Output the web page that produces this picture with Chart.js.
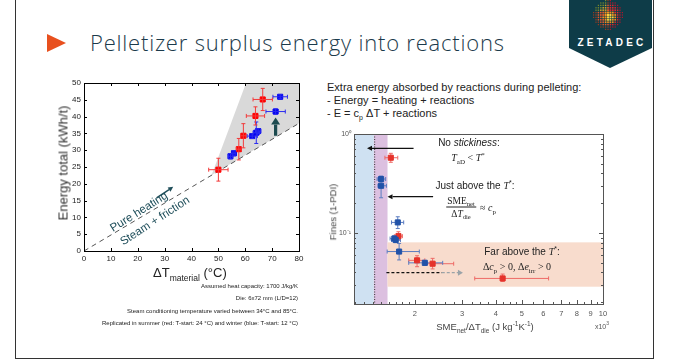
<!DOCTYPE html>
<html><head><meta charset="utf-8">
<script src="https://cdn.jsdelivr.net/npm/chart.js@4.4.0/dist/chart.umd.min.js"></script>
<style>
html,body{margin:0;padding:0;background:#fff;}
#page{position:relative;width:677px;height:362px;overflow:hidden;font-family:"Liberation Sans",Arial,sans-serif;color:#222;}
.abs{position:absolute;white-space:nowrap;line-height:1;}
.c{transform:translate(-50%,-50%);}
canvas{position:absolute;}
sub,sup{line-height:0;}
.math{font-family:"Liberation Serif","DejaVu Serif",serif;}
</style></head>
<body><div id="page">
<div class="abs" style="left:15px;top:-5px;width:639px;height:364px;border:1.5px solid #333;border-top:none;box-sizing:border-box;"></div>
<svg id="logo" class="abs" style="left:0;top:0" width="677" height="80">
  <polygon points="569,0 652,0 652,48 610,68 569,48" fill="#0e3c48"/>
  <g id="sphere"></g>
  <text x="612" y="46" fill="#fff" font-family="Liberation Sans,Arial" font-weight="bold" font-size="10" letter-spacing="3.2" text-anchor="middle">ZETADEC</text>
</svg>
<div class="abs" style="left:47px;top:34px;width:0;height:0;border-left:19px solid #e8501e;border-top:9.5px solid transparent;border-bottom:9.5px solid transparent;"></div>
<div class="abs" style="left:90px;top:31px;font-family:'Open Sans',sans-serif;font-weight:300;font-size:22px;letter-spacing:0.8px;line-height:22px;color:#1b3a4b;">Pelletizer surplus energy into reactions</div>

<canvas id="c1" width="270" height="200" style="left:40px;top:70px;width:270px;height:200px"></canvas>
<canvas id="c2" width="310" height="215" style="left:310px;top:125px;width:310px;height:215px"></canvas>

<!-- chart 1 texts -->
<div class="abs c" style="left:63px;top:163px;font-size:13px;color:#333;transform:translate(-50%,-50%) rotate(-90deg);">Energy total (kWh/t)</div>
<div class="abs" style="left:153px;top:266px;font-size:13px;">ΔT<sub style="font-size:8.5px">material</sub> (°C)</div>
<div class="abs" style="left:139px;top:212px;font-size:11.5px;color:#1f4e5a;transform:translate(-50%,-50%) rotate(-32deg);">Pure heating</div>
<div class="abs" style="left:155px;top:221px;font-size:11.5px;color:#1f4e5a;transform:translate(-50%,-50%) rotate(-33deg);">Steam + friction</div>
<div class="abs" style="left:40px;top:280px;width:258px;text-align:right;font-size:6px;line-height:12.3px;color:#222;">Assumed heat capacity: 1700 J/kg/K<br>Die: 6x72 mm (L/D=12)<br>Steam conditioning temperature varied between 34°C and 85°C.<br>Replicated in summer (red: T-start: 24 °C) and winter (blue: T-start: 12 °C)</div>

<!-- right texts -->
<div class="abs" style="left:327px;top:81px;font-size:11px;line-height:13px;color:#222;">Extra energy absorbed by reactions during pelleting:<br>- Energy = heating + reactions<br>- E = c<sub style="font-size:7px">p</sub> ΔT + reactions</div>

<!-- chart 2 texts -->
<div class="abs c" style="left:333px;top:212px;font-size:9.5px;color:#444;transform:translate(-50%,-50%) rotate(-90deg);">Fines (1-PDI)</div>
<div class="abs c" style="left:485px;top:327px;font-size:9.5px;color:#444;">SME<sub style="font-size:6.5px">net</sub>/ΔT<sub style="font-size:6.5px">die</sub> (J kg<sup style="font-size:6.5px">-1</sup>K<sup style="font-size:6.5px">-1</sup>)</div>
<div class="abs c" style="left:602px;top:326px;font-size:7px;color:#555;">x10<sup style="font-size:5px">3</sup></div>
<div class="abs c" style="left:469px;top:143px;font-size:10px;">No <i>stickiness</i>:</div>
<div class="abs c math" style="left:468px;top:158px;font-size:10px;"><i>T</i><sub style="font-size:7px">aD</sub> &lt; <i>T</i><sup style="font-size:7px">*</sup></div>
<div class="abs c" style="left:475px;top:186px;font-size:10px;">Just above the <i class="math">T</i><sup style="font-size:7px">*</sup>:</div>
<div class="abs c math" style="left:461px;top:207px;font-size:9.5px;text-align:center;line-height:10px;"><div style="border-bottom:0.8px solid #222;padding:0 1px 1px">SME<sub style="font-size:6.5px">net</sub></div><div style="padding-top:1px">Δ<i>T</i><sub style="font-size:6.5px">die</sub></div></div>
<div class="abs c math" style="left:488px;top:208px;font-size:10px;">≈ <i>c</i><sub style="font-size:7px">p</sub></div>
<div class="abs c" style="left:522px;top:252px;font-size:10px;">Far above the <i class="math">T</i><sup style="font-size:7px">*</sup>:</div>
<div class="abs c math" style="left:517px;top:267px;font-size:10px;">Δ<i>c</i><sub style="font-size:7px">p</sub> &gt; 0, Δ<i>e</i><sub style="font-size:7px">irr</sub> &gt; 0</div>
</div>

<script>
// ---------- Chart 1 data: energy vs temperature rise ----------
const c1XTicks = [0, 10, 20, 30, 40, 50, 60, 70, 80];
const c1YTicks = [0, 5, 10, 15, 20, 25, 30, 35, 40, 45, 50];
const summerDT    = [50.0, 57.6, 59.3, 63.8, 66.5];
const summerE     = [24.2, 30.3, 34.3, 40.2, 45.1];
const summerDTErr = [3.6, 0.9, 1.0, 3.4, 3.6];
const summerEErr  = [3.4, 3.2, 3.6, 2.7, 3.3];
const winterDT    = [54.5, 55.8, 62.6, 64.1, 64.8, 71.3, 73.0];
const winterE     = [28.2, 29.1, 34.2, 35.2, 35.7, 41.5, 45.9];
const winterDTErr = [0.7, 0.7, 1.9, 1.2, 1.0, 3.6, 2.7];
const winterEErr  = [0.8, 0.8, 0.7, 3.2, 0.7, 0.8, 0.6];
const heatingLineDT = [0, 80];
const heatingLineE  = [0, 38];
const shadeDT = [47.5, 60.3, 80, 80];
const shadeE  = [22.6, 50, 50, 38];
const upArrowDT = [71.3, 71.3];
const upArrowE  = [34.3, 39.7];
const heatArrowDT = [27.0, 33.2];
const heatArrowE  = [15.8, 19.1];

// ---------- Chart 2 data: fines vs SME/dT (x in 10^3 J/kg/K) ----------
const c2XTicks = [2, 3, 4, 5, 6, 7, 8, 9, 10];
const c2XTickLabels = ['2', '3', '4', '5', '6', '7', '8', '9', '10'];
const c2XMinor = [1.2,1.3,1.4,1.5,1.6,1.7,1.8,1.9,2.2,2.4,2.6,2.8,3.25,3.5,3.75,4.25,4.5,4.75,5.5,6.5,7.5,8.5,9.5];
const c2YTicks = [0.1, 1];
const c2YTickLabels = ['10⁻¹', '10⁰'];
const c2YMinor = [0.02,0.03,0.04,0.05,0.06,0.07,0.08,0.09,0.2,0.3,0.4,0.5,0.6,0.7,0.8,0.9];
const finesRedX   = [1.63, 1.74, 2.04, 2.33, 4.24];
const finesRedY   = [0.576, 0.093, 0.053, 0.049, 0.0348];
const finesRedXLo = [1.55, 1.68, 1.90, 2.22, 3.34];
const finesRedXHi = [1.73, 1.80, 2.18, 2.79, 6.28];
const finesRedYLo = [0.518, 0.085, 0.0457, 0.0434, 0.0325];
const finesRedYHi = [0.638, 0.103, 0.059, 0.0555, 0.0385];
const finesBlueX   = [1.50, 1.50, 1.73, 1.68, 1.70, 1.75, 2.18];
const finesBlueY   = [0.351, 0.30, 0.128, 0.088, 0.085, 0.065, 0.050];
const finesBlueXLo = [1.45, 1.46, 1.64, 1.62, 1.64, 1.58, 1.90];
const finesBlueXHi = [1.56, 1.57, 1.82, 1.76, 1.77, 2.08, 2.54];
const finesBlueYLo = [0.33, 0.227, 0.111, 0.083, 0.080, 0.0535, 0.047];
const finesBlueYHi = [0.376, 0.33, 0.146, 0.094, 0.090, 0.0785, 0.053];
const noStickBand   = [1.19, 1.41];
const justAboveBand = [1.41, 1.585];
const farAboveBandX = [1.585, 10];
const farAboveBandY = [0.0287, 0.0805];
const tStarLineX = 1.42;
const arrowNoStickX = [1.98, 1.33];   const arrowNoStickY = 0.717;
const arrowJustX    = [2.34, 1.585];  const arrowJustY    = 0.233;
const dashArrowX    = [1.57, 2.52, 3.02]; const dashArrowY  = 0.0398;

// ---------- logo sphere ----------
(function(){
  const g = document.getElementById('sphere');
  const cx = 608, cy = 15, step = 2.4;
  let html = '';
  for (let i = -7; i <= 7; i++) for (let j = -7; j <= 7; j++) {
    const dx = i*step, dy = j*step, r = Math.hypot(dx, dy);
    if (r > 15) continue;
    const hx = dx - 1.5, hy = dy - 2.5, hr = Math.hypot(hx, hy);
    let col;
    if (hr < 3.5) col = '#fbd040';
    else if (hr < 6.5) col = '#f4901c';
    else if (dx > 2) col = (r > 11 ? '#b0182c' : '#e02a2c');
    else if (dy < -3 && dx < 0) col = (r > 10 ? '#7c8a2c' : '#c99a2a');
    else col = (r > 11 ? '#9a3c20' : '#e6582a');
    const s = Math.max(0.9, 2.2 - r*0.07);
    html += `<rect x="${(cx+dx-s/2).toFixed(2)}" y="${(cy+dy-s/2).toFixed(2)}" width="${s.toFixed(2)}" height="${s.toFixed(2)}" fill="${col}"/>`;
  }
  g.innerHTML = html;
})();

// ---------- helpers ----------
function errBars(ctx, xs, ys, X, Y, XLo, XHi, YLo, YHi, color, cap, lw) {
  ctx.save();
  ctx.strokeStyle = color; ctx.lineWidth = lw;
  for (let i = 0; i < X.length; i++) {
    const px = xs.getPixelForValue(X[i]), py = ys.getPixelForValue(Y[i]);
    const x1 = xs.getPixelForValue(XLo[i]), x2 = xs.getPixelForValue(XHi[i]);
    const y1 = ys.getPixelForValue(YLo[i]), y2 = ys.getPixelForValue(YHi[i]);
    ctx.beginPath();
    ctx.moveTo(x1, py); ctx.lineTo(x2, py);
    ctx.moveTo(x1, py-cap); ctx.lineTo(x1, py+cap);
    ctx.moveTo(x2, py-cap); ctx.lineTo(x2, py+cap);
    ctx.moveTo(px, y1); ctx.lineTo(px, y2);
    ctx.moveTo(px-cap, y1); ctx.lineTo(px+cap, y1);
    ctx.moveTo(px-cap, y2); ctx.lineTo(px+cap, y2);
    ctx.stroke();
  }
  ctx.restore();
}
function arrow(ctx, x1, y1, x2, y2, color, lw, head, hw) {
  const a = Math.atan2(y2-y1, x2-x1);
  const bx = x2 - head*Math.cos(a), by = y2 - head*Math.sin(a);
  ctx.save();
  ctx.strokeStyle = color; ctx.fillStyle = color; ctx.lineWidth = lw;
  ctx.beginPath(); ctx.moveTo(x1, y1); ctx.lineTo(bx, by); ctx.stroke();
  ctx.beginPath();
  ctx.moveTo(x2, y2);
  ctx.lineTo(bx + hw*Math.sin(a), by - hw*Math.cos(a));
  ctx.lineTo(bx - hw*Math.sin(a), by + hw*Math.cos(a));
  ctx.closePath(); ctx.fill();
  ctx.restore();
}
function sym(vals, errs, sign) { return vals.map((v, i) => v + sign*errs[i]); }
function pts(X, Y) { return X.map((x, i) => ({x, y: Y[i]})); }

// ---------- Chart 1 ----------
const c1Decor = {
  id: 'c1Decor',
  beforeDatasetsDraw(chart) {
    const {ctx, chartArea: a} = chart, xs = chart.scales.x, ys = chart.scales.y;
    ctx.save();
    ctx.beginPath(); ctx.rect(a.left, a.top, a.right-a.left, a.bottom-a.top); ctx.clip();
    ctx.fillStyle = '#d9d9d9';
    ctx.beginPath();
    shadeDT.forEach((v, i) => {
      const px = xs.getPixelForValue(v), py = ys.getPixelForValue(shadeE[i]);
      i ? ctx.lineTo(px, py) : ctx.moveTo(px, py);
    });
    ctx.closePath(); ctx.fill();
    ctx.restore();
  },
  afterDatasetsDraw(chart) {
    const {ctx} = chart, xs = chart.scales.x, ys = chart.scales.y;
    errBars(ctx, xs, ys, winterDT, winterE, sym(winterDT, winterDTErr, -1), sym(winterDT, winterDTErr, 1),
            sym(winterE, winterEErr, -1), sym(winterE, winterEErr, 1), '#2a2af0', 2, 1);
    errBars(ctx, xs, ys, summerDT, summerE, sym(summerDT, summerDTErr, -1), sym(summerDT, summerDTErr, 1),
            sym(summerE, summerEErr, -1), sym(summerE, summerEErr, 1), '#f23a3a', 2, 1);
    arrow(ctx, xs.getPixelForValue(upArrowDT[0]), ys.getPixelForValue(upArrowE[0]),
          xs.getPixelForValue(upArrowDT[1]), ys.getPixelForValue(upArrowE[1]), '#1c4a4f', 3.2, 7, 4.5);
    arrow(ctx, xs.getPixelForValue(heatArrowDT[0]), ys.getPixelForValue(heatArrowE[0]),
          xs.getPixelForValue(heatArrowDT[1]), ys.getPixelForValue(heatArrowE[1]), '#1f4e5a', 1.4, 5, 2.5);
  },
  afterDraw(chart) {
    const {ctx, chartArea: a} = chart, xs = chart.scales.x, ys = chart.scales.y;
    ctx.save();
    ctx.strokeStyle = '#000'; ctx.lineWidth = 1;
    ctx.strokeRect(Math.round(a.left)+0.5, Math.round(a.top)+0.5, Math.round(a.right-a.left), Math.round(a.bottom-a.top));
    ctx.beginPath();
    c1XTicks.forEach(v => { const p = Math.round(xs.getPixelForValue(v))+0.5;
      ctx.moveTo(p, a.bottom); ctx.lineTo(p, a.bottom-3); ctx.moveTo(p, a.top); ctx.lineTo(p, a.top+3); });
    c1YTicks.forEach(v => { const p = Math.round(ys.getPixelForValue(v))+0.5;
      ctx.moveTo(a.left, p); ctx.lineTo(a.left+3, p); ctx.moveTo(a.right, p); ctx.lineTo(a.right-3, p); });
    ctx.stroke();
    ctx.restore();
  }
};

new Chart(document.getElementById('c1'), {
  type: 'scatter',
  data: { datasets: [
    { label: 'Summer', data: pts(summerDT, summerE), pointStyle: 'rect', pointRadius: 3.6,
      backgroundColor: '#ff0000', borderColor: '#ff0000', borderWidth: 1, order: 0 },
    { label: 'Winter', data: pts(winterDT, winterE), pointStyle: 'rect', pointRadius: 3.6,
      backgroundColor: '#0000f0', borderColor: '#0000f0', borderWidth: 1, order: 1 },
    { label: 'Pure heating', data: pts(heatingLineDT, heatingLineE), showLine: true, pointRadius: 0,
      borderColor: '#555', borderWidth: 1, borderDash: [5, 4], order: 2 }
  ]},
  options: {
    responsive: false, animation: false, devicePixelRatio: 1,
    layout: { padding: { left: 0, right: 11, top: 13, bottom: 0 } },
    plugins: { legend: { display: false }, tooltip: { enabled: false } },
    scales: {
      x: { type: 'linear', min: 0, max: 80, afterFit: s => { s.height = 19; },
           afterBuildTicks: s => { s.ticks = c1XTicks.map(v => ({value: v})); },
           grid: { display: false, drawTicks: false }, border: { display: false },
           ticks: { color: '#222', font: { size: 8, family: 'Liberation Sans' }, padding: 3, maxRotation: 0 } },
      y: { type: 'linear', min: 0, max: 50, afterFit: s => { s.width = 44; },
           afterBuildTicks: s => { s.ticks = c1YTicks.map(v => ({value: v})); },
           grid: { display: false, drawTicks: false }, border: { display: false },
           ticks: { color: '#222', font: { size: 8, family: 'Liberation Sans' }, padding: 3 } }
    }
  },
  plugins: [c1Decor]
});

// ---------- Chart 2 ----------
const c2Decor = {
  id: 'c2Decor',
  beforeDatasetsDraw(chart) {
    const {ctx, chartArea: a} = chart, xs = chart.scales.x, ys = chart.scales.y;
    const X = v => xs.getPixelForValue(v), Y = v => ys.getPixelForValue(v);
    ctx.save();
    ctx.beginPath(); ctx.rect(a.left, a.top, a.right-a.left, a.bottom-a.top); ctx.clip();
    ctx.fillStyle = '#cfe1f2';
    ctx.fillRect(X(noStickBand[0]), a.top, X(noStickBand[1]) - X(noStickBand[0]), a.bottom-a.top);
    ctx.fillStyle = '#dcc0e0';
    ctx.fillRect(X(justAboveBand[0]), a.top, X(justAboveBand[1]) - X(justAboveBand[0]), a.bottom-a.top);
    ctx.fillStyle = '#f8dccd';
    ctx.fillRect(X(farAboveBandX[0]), Y(farAboveBandY[1]), X(farAboveBandX[1]) - X(farAboveBandX[0]), Y(farAboveBandY[0]) - Y(farAboveBandY[1]));
    ctx.strokeStyle = '#333'; ctx.lineWidth = 1; ctx.setLineDash([1, 1.5]);
    ctx.beginPath(); ctx.moveTo(X(tStarLineX), a.top); ctx.lineTo(X(tStarLineX), a.bottom); ctx.stroke();
    ctx.restore();
    errBars(ctx, xs, ys, finesRedX, finesRedY, finesRedXLo, finesRedXHi, finesRedYLo, finesRedYHi, '#ee6a66', 2, 1);
    errBars(ctx, xs, ys, finesBlueX, finesBlueY, finesBlueXLo, finesBlueXHi, finesBlueYLo, finesBlueYHi, '#5b7cc0', 2, 1);
  },
  afterDatasetsDraw(chart) {
    const {ctx} = chart, xs = chart.scales.x, ys = chart.scales.y;
    const X = v => xs.getPixelForValue(v), Y = v => ys.getPixelForValue(v);
    arrow(ctx, X(arrowNoStickX[0]), Y(arrowNoStickY), X(arrowNoStickX[1]), Y(arrowNoStickY), '#111', 1.3, 5, 2.5);
    arrow(ctx, X(arrowJustX[0]), Y(arrowJustY), X(arrowJustX[1]), Y(arrowJustY), '#111', 1.3, 5, 2.5);
    ctx.save();
    ctx.setLineDash([3, 2]); ctx.lineWidth = 1.3;
    ctx.strokeStyle = '#111';
    ctx.beginPath(); ctx.moveTo(X(dashArrowX[0]), Y(dashArrowY)); ctx.lineTo(X(dashArrowX[1]), Y(dashArrowY)); ctx.stroke();
    ctx.strokeStyle = '#9aa3a8';
    ctx.beginPath(); ctx.moveTo(X(dashArrowX[1]), Y(dashArrowY)); ctx.lineTo(X(dashArrowX[2]) - 4, Y(dashArrowY)); ctx.stroke();
    ctx.restore();
    arrow(ctx, X(dashArrowX[2]) - 5, Y(dashArrowY), X(dashArrowX[2]), Y(dashArrowY), '#9aa3a8', 1, 5, 3);
  },
  afterDraw(chart) {
    const {ctx, chartArea: a} = chart, xs = chart.scales.x, ys = chart.scales.y;
    ctx.save();
    ctx.strokeStyle = '#555'; ctx.lineWidth = 1;
    ctx.strokeRect(Math.round(a.left)+0.5, Math.round(a.top)+0.5, Math.round(a.right-a.left), Math.round(a.bottom-a.top));
    ctx.beginPath();
    c2XTicks.forEach(v => { const p = Math.round(xs.getPixelForValue(v))+0.5; ctx.moveTo(p, a.bottom); ctx.lineTo(p, a.bottom-4); });
    c2XMinor.forEach(v => { const p = Math.round(xs.getPixelForValue(v))+0.5; ctx.moveTo(p, a.bottom); ctx.lineTo(p, a.bottom-2); });
    c2YTicks.forEach(v => { const p = Math.round(ys.getPixelForValue(v))+0.5;
      ctx.moveTo(a.left, p); ctx.lineTo(a.left+4, p); ctx.moveTo(a.right, p); ctx.lineTo(a.right-4, p); });
    c2YMinor.forEach(v => { const p = Math.round(ys.getPixelForValue(v))+0.5;
      ctx.moveTo(a.left, p); ctx.lineTo(a.left+2, p); ctx.moveTo(a.right, p); ctx.lineTo(a.right-2, p); });
    ctx.stroke();
    ctx.restore();
  }
};

new Chart(document.getElementById('c2'), {
  type: 'scatter',
  data: { datasets: [
    { label: 'Winter', data: pts(finesBlueX, finesBlueY), pointStyle: 'rect', pointRadius: 3.6,
      backgroundColor: '#2152a8', borderColor: '#2152a8', borderWidth: 1, order: 0 },
    { label: 'Summer', data: pts(finesRedX, finesRedY), pointStyle: 'rect', pointRadius: 3.6,
      backgroundColor: '#e5322a', borderColor: '#e5322a', borderWidth: 1, order: 1 }
  ]},
  options: {
    responsive: false, animation: false, devicePixelRatio: 1,
    layout: { padding: { left: 0, right: 17, top: 9, bottom: 0 } },
    plugins: { legend: { display: false }, tooltip: { enabled: false } },
    scales: {
      x: { type: 'logarithmic', min: 1.19, max: 10, afterFit: s => { s.height = 36; },
           afterBuildTicks: s => { s.ticks = c2XTicks.map(v => ({value: v})); },
           grid: { display: false, drawTicks: false }, border: { display: false },
           ticks: { color: '#555', font: { size: 7.5, family: 'Liberation Sans' }, padding: 5, maxRotation: 0,
                    callback: (v, i) => c2XTickLabels[i] } },
      y: { type: 'logarithmic', min: 0.0192, max: 1, afterFit: s => { s.width = 44; },
           afterBuildTicks: s => { s.ticks = c2YTicks.map(v => ({value: v})); },
           grid: { display: false, drawTicks: false }, border: { display: false },
           ticks: { color: '#555', font: { size: 7, family: 'Liberation Sans' }, padding: 3,
                    callback: (v, i) => c2YTickLabels[i] } }
    }
  },
  plugins: [c2Decor]
});
</script>
</body></html>
